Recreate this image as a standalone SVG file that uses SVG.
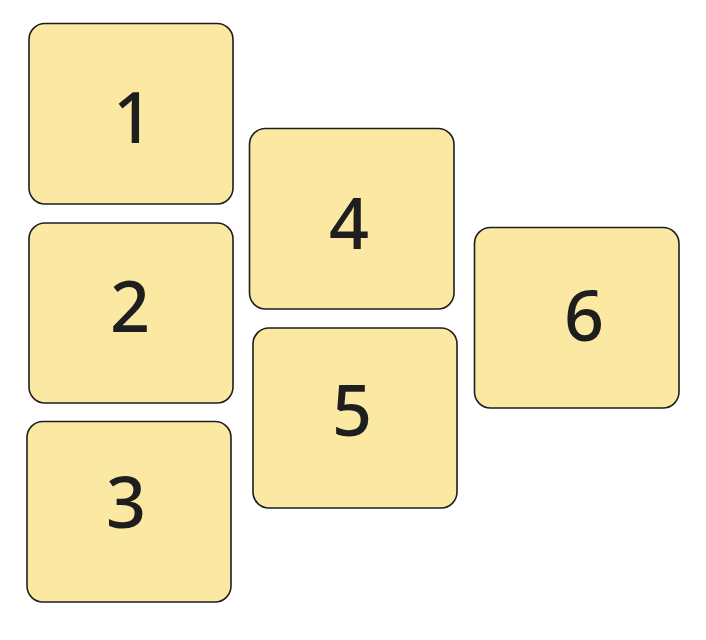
<svg xmlns="http://www.w3.org/2000/svg" width="706" height="640" viewBox="0 0 706 640">
<style>
.box{fill:#fbe9a3;stroke:#1e1e1e;stroke-width:1.6}
.lbl{font-family:"Noto Sans","Open Sans","Liberation Sans",sans-serif;font-size:70px;font-weight:500;fill:#1e1e1e;text-anchor:middle}
</style>
<rect width="706" height="640" fill="#ffffff"/>
<g id="node1"><rect class="box" x="29" y="23.5" width="204" height="180.5" rx="16"/><text class="lbl" x="133" y="143">1</text></g>
<g id="node2"><rect class="box" x="29" y="223" width="204" height="180" rx="16"/><text class="lbl" x="130" y="332">2</text></g>
<g id="node3"><rect class="box" x="27" y="421.5" width="204" height="180.5" rx="16"/><text class="lbl" x="126" y="528">3</text></g>
<g id="node4"><rect class="box" x="249.5" y="128.5" width="204.5" height="180.5" rx="16"/><text class="lbl" x="349" y="249">4</text></g>
<g id="node5"><rect class="box" x="253" y="328" width="204" height="180" rx="16"/><text class="lbl" x="352" y="436">5</text></g>
<g id="node6"><rect class="box" x="474.5" y="227.5" width="204.5" height="180.5" rx="16"/><text class="lbl" x="584" y="341">6</text></g>
<g id="connectors"></g>
</svg>
